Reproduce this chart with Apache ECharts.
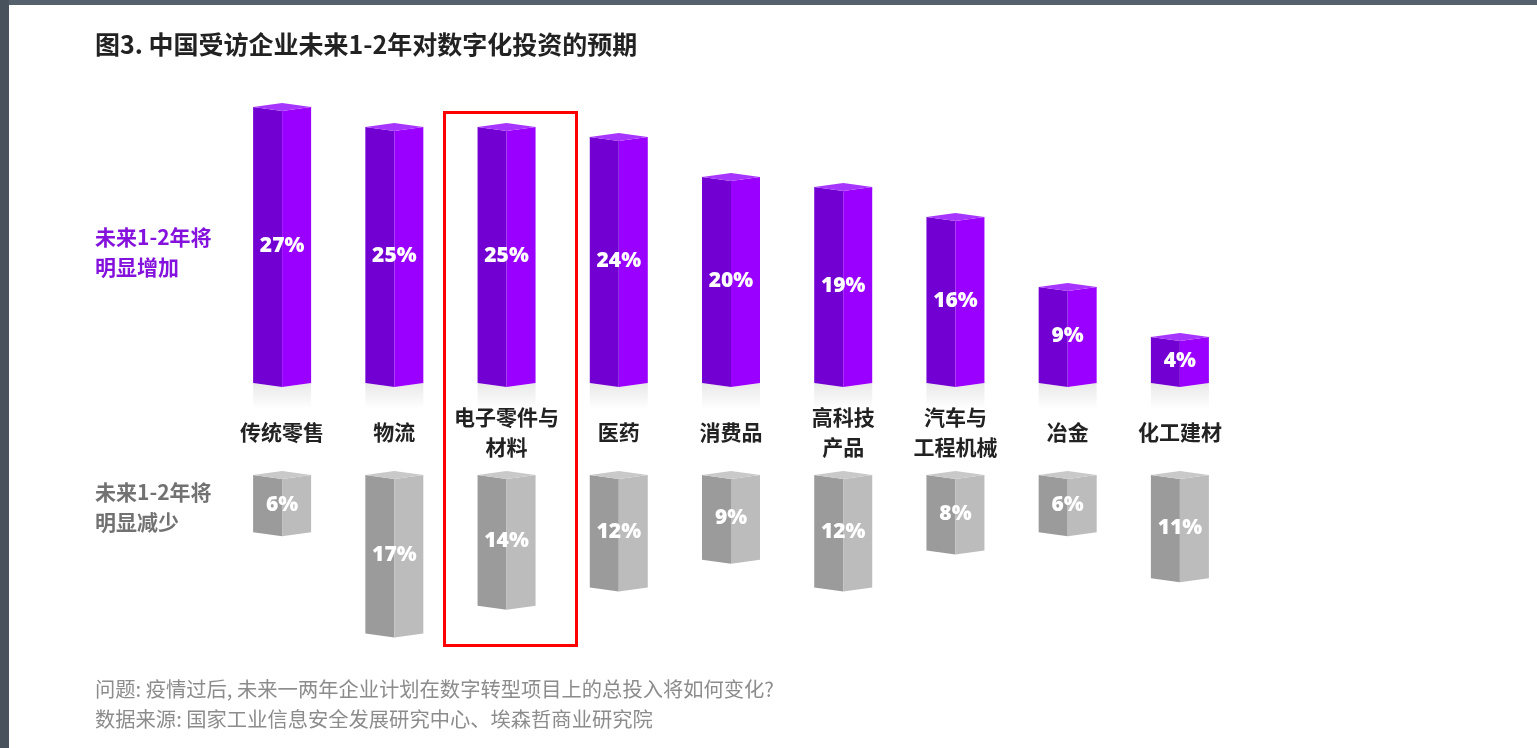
<!DOCTYPE html>
<html>
<head>
<meta charset="utf-8">
<title>图3</title>
<script src="https://cdn.jsdelivr.net/npm/echarts@6/dist/echarts.min.js"></script>
<style>
  html, body { margin: 0; padding: 0; background: #fff; }
  #main { width: 1537px; height: 748px; }
</style>
</head>
<body>
<div id="main"></div>
<script>
var categories = ['传统零售', '物流', '电子零件与\n材料', '医药', '消费品', '高科技\n产品', '汽车与\n工程机械', '冶金', '化工建材'];
var increaseValues = [27, 25, 25, 24, 20, 19, 16, 9, 4];   // 未来1-2年将明显增加
var decreaseValues = [6, 17, 14, 12, 9, 12, 8, 6, 11];     // 未来1-2年将明显减少

var FONT = '"Noto Sans CJK SC", "Noto Sans", sans-serif';

var dom = document.getElementById('main');
var myChart = echarts.init(dom);

// 3D 柱子: 左面深, 右面浅, 顶部菱形
function cubeBar(colors, baseOffset, down) {
    return function (params, api) {
        var idx = api.value(0);
        var v = api.value(1);
        var p = api.coord([idx, v]);
        var z = api.coord([idx, 0]);
        var x = p[0], w = 29, d = 4;
        var yTop, yBot;
        if (down) {
            yTop = z[1];
            yBot = p[1] + baseOffset;
        } else {
            yTop = p[1];
            yBot = z[1] + baseOffset;
        }
        var children = [];
        if (!down) {
            // 底部倒影
            children.push({
                type: 'polygon',
                shape: { points: [[x - w, yBot], [x, yBot + d], [x + w, yBot], [x + w, yBot + 26], [x - w, yBot + 26]] },
                style: {
                    fill: new echarts.graphic.LinearGradient(0, 0, 0, 1, [
                        { offset: 0, color: 'rgba(0,0,0,0.09)' },
                        { offset: 1, color: 'rgba(0,0,0,0)' }
                    ])
                }
            });
        }
        children.push({
            type: 'polygon',
            shape: { points: [[x - w, yTop], [x, yTop + d], [x, yBot + d], [x - w, yBot]] },
            style: { fill: colors[0] }
        });
        children.push({
            type: 'polygon',
            shape: { points: [[x, yTop + d], [x + w, yTop], [x + w, yBot], [x, yBot + d]] },
            style: { fill: colors[1] }
        });
        children.push({
            type: 'polygon',
            shape: { points: [[x - w, yTop], [x, yTop - d], [x + w, yTop], [x, yTop + d]] },
            style: { fill: colors[2] }
        });
        children.push({
            type: 'text',
            style: {
                text: v + '%',
                x: x,
                y: (yTop + yBot) / 2 + 1,
                fill: '#fff',
                font: '800 21px "Open Sans", Lato, sans-serif',
                align: 'center',
                verticalAlign: 'middle',
                textAlign: 'center',
                textVerticalAlign: 'middle'
            }
        });
        return { type: 'group', children: children };
    };
}

option = {
    backgroundColor: '#fff',
    animation: false,
    grid: [
        { left: 226, width: 1010, top: 107, height: 270 },   // 上: 增加
        { left: 226, width: 1010, top: 475, height: 184 }    // 下: 减少
    ],
    xAxis: [
        {
            type: 'category',
            gridIndex: 0,
            data: categories,
            axisLine: { show: false },
            axisTick: { show: false },
            splitLine: { show: false },
            axisLabel: {
                interval: 0,
                margin: 55,
                verticalAlign: 'middle',
                lineHeight: 30,
                fontSize: 21,
                fontWeight: 'bold',
                fontFamily: FONT,
                color: '#222'
            }
        },
        { type: 'category', gridIndex: 1, data: categories, show: false }
    ],
    yAxis: [
        { type: 'value', gridIndex: 0, min: 0, max: 27, show: false },
        { type: 'value', gridIndex: 1, min: 0, max: 20, inverse: true, show: false }
    ],
    series: [
        {
            name: '未来1-2年将明显增加',
            type: 'custom',
            xAxisIndex: 0,
            yAxisIndex: 0,
            renderItem: cubeBar(['#7200d2', '#9a00ff', '#a636ff'], 6, false),
            encode: { x: 0, y: 1 },
            data: increaseValues.map(function (v, i) { return [i, v]; })
        },
        {
            name: '未来1-2年将明显减少',
            type: 'custom',
            xAxisIndex: 1,
            yAxisIndex: 1,
            renderItem: cubeBar(['#9b9b9b', '#bcbcbc', '#c9c9c9'], 2, true),
            encode: { x: 0, y: 1 },
            data: decreaseValues.map(function (v, i) { return [i, v]; })
        }
    ],
    graphic: [
        // 外框的深色边
        { type: 'rect', left: 0, top: 0, shape: { width: 1537, height: 5 }, style: { fill: '#55626e' } },
        { type: 'rect', left: 0, top: 0, shape: { width: 9, height: 748 }, style: { fill: '#47525d' } },
        {
            type: 'text', left: 95, top: 32,
            style: { text: '图3. 中国受访企业未来1-2年对数字化投资的预期', font: 'bold 25px ' + FONT, fill: '#222' }
        },
        {
            type: 'text', left: 95, top: 222,
            style: { text: '未来1-2年将\n明显增加', font: 'bold 21px ' + FONT, fill: '#8412dc', lineHeight: 30 }
        },
        {
            type: 'text', left: 95, top: 477,
            style: { text: '未来1-2年将\n明显减少', font: 'bold 21px ' + FONT, fill: '#727272', lineHeight: 30 }
        },
        {
            type: 'text', left: 95, top: 679,
            style: { text: '问题: 疫情过后, 未来一两年企业计划在数字转型项目上的总投入将如何变化?', font: '20.3px ' + FONT, fill: '#8c8c8c' }
        },
        {
            type: 'text', left: 95, top: 709,
            style: { text: '数据来源: 国家工业信息安全发展研究中心、埃森哲商业研究院', font: '20.3px ' + FONT, fill: '#8c8c8c' }
        },
        // 红色高亮框
        {
            type: 'rect', left: 442, top: 110, z: 100,
            shape: { width: 132, height: 533 },
            style: { fill: 'none', stroke: '#ff0000', lineWidth: 3 }
        }
    ]
};

if (option && typeof option === "object") {
    myChart.setOption(option, true);
}
</script>
</body>
</html>
